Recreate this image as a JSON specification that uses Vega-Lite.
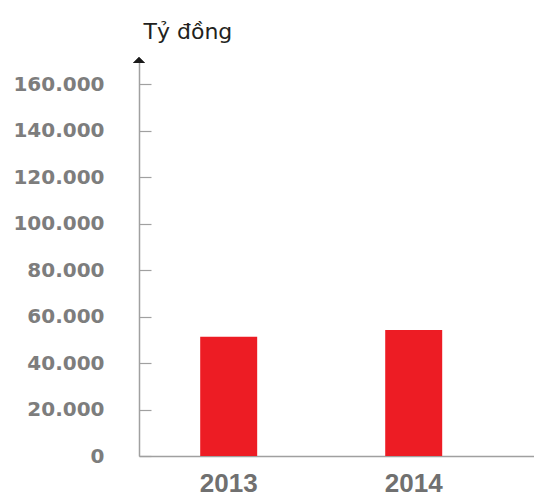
{
  "$schema": "https://vega.github.io/schema/vega-lite/v6.json",
  "autosize": "none",
  "padding": {"left": 139, "top": 61, "right": 0, "bottom": 36},
  "width": 395,
  "height": 395,
  "background": "#ffffff",
  "data": {"values": [
    {"year": "2013", "value": 51300},
    {"year": "2014", "value": 54200}
  ]},
  "layer": [
    {
      "mark": {"type": "bar", "color": "#ED1C24"},
      "encoding": {
        "x": {
          "field": "year", "type": "nominal",
          "scale": {"paddingInner": 0.692, "paddingOuter": 0.4135, "align": 0.4},
          "axis": {
            "title": null, "labelAngle": 0, "ticks": false, "labelPadding": 14,
            "labelFont": "Liberation Sans", "labelFontWeight": "bold", "labelFontSize": 26,
            "labelColor": "#707070", "domainColor": "#a0a0a0", "domainWidth": 1.5
          }
        },
        "y": {
          "field": "value", "type": "quantitative",
          "scale": {"domain": [0, 170000], "nice": false},
          "axis": {
            "title": "Tỷ đồng", "titleAngle": 0, "titleAlign": "left", "titleBaseline": "alphabetic",
            "titleX": 4, "titleY": -23, "titleFont": "DejaVu Sans", "titleFontSize": 22,
            "titleFontWeight": "normal", "titleColor": "#231f20",
            "values": [0, 20000, 40000, 60000, 80000, 100000, 120000, 140000, 160000],
            "labelExpr": "replace(format(datum.value, ','), ',', '.')",
            "labelFont": "DejaVu Sans", "labelFontWeight": "bold", "labelFontSize": 20,
            "labelColor": "#7d7d7d", "labelPadding": 47, "labelBaseline": "middle",
            "tickSize": -12, "tickColor": "#a0a0a0", "tickWidth": 1.2,
            "domainColor": "#a0a0a0", "domainWidth": 1.5, "grid": false
          }
        }
      }
    },
    {
      "mark": {"type": "point", "shape": "M -1 0.333 L 1 0.333 L 0 -0.667 Z", "filled": true, "color": "#1a1a1a", "size": 144, "opacity": 1},
      "encoding": {
        "x": {"value": 0},
        "y": {"datum": 170000, "type": "quantitative"}
      }
    }
  ],
  "config": {"view": {"stroke": null}}
}
